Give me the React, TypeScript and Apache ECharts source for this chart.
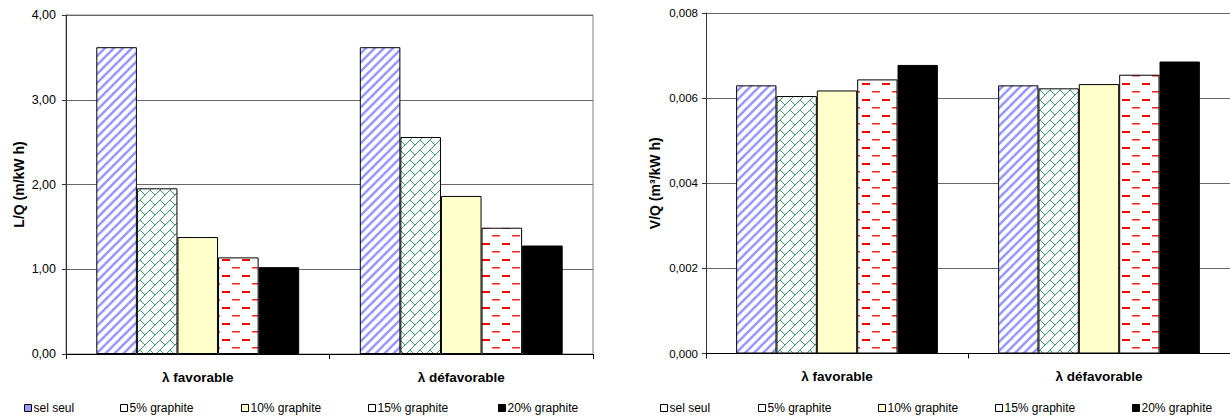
import React, { useEffect, useRef } from "react";
import * as echarts from "echarts";

const categories = ["λ favorable", "λ défavorable"];
const seriesNames = ["sel seul", "5% graphite", "10% graphite", "15% graphite", "20% graphite"];
// L/Q (m/kWh)
const lqSelSeul = [3.62, 3.62];
const lq5 = [1.955, 2.56];
const lq10 = [1.38, 1.865];
const lq15 = [1.14, 1.49];
const lq20 = [1.025, 1.28];
// V/Q (m3/kWh)
const vqSelSeul = [0.0063, 0.0063];
const vq5 = [0.00605, 0.00623];
const vq10 = [0.00618, 0.00633];
const vq15 = [0.00644, 0.00655];
const vq20 = [0.00678, 0.00686];

const lqTicks = [0, 1, 2, 3, 4];
const vqTicks = [0, 0.002, 0.004, 0.006, 0.008];

const FONT = "Liberation Sans, Arial, sans-serif";

function makePattern(w: number, h: number, draw: (c: CanvasRenderingContext2D) => void, bg = "#ffffff") {
  const cv = document.createElement("canvas");
  cv.width = w;
  cv.height = h;
  const c = cv.getContext("2d")!;
  c.fillStyle = bg;
  c.fillRect(0, 0, w, h);
  draw(c);
  return { image: cv.toDataURL(), repeat: "repeat", imageWidth: w, imageHeight: h } as any;
}

function buildPatterns() {
  const stripes = makePattern(9, 9, (c) => {
    c.strokeStyle = "#9999FF";
    c.lineWidth = 2.6;
    for (const k of [-9, 0, 9]) {
      c.beginPath();
      c.moveTo(k - 1, 10);
      c.lineTo(k + 10, -1);
      c.stroke();
    }
  });
  const brick = makePattern(10, 10, (c) => {
    c.strokeStyle = "#3A9A6A";
    c.lineWidth = 1;
    for (const k of [-10, 0, 10]) {
      c.beginPath();
      c.moveTo(k - 1, 11);
      c.lineTo(k + 11, -1);
      c.stroke();
    }
    c.beginPath();
    c.moveTo(0, 0);
    c.lineTo(5, 5);
    c.stroke();
    c.beginPath();
    c.moveTo(10, 10);
    c.lineTo(11, 11);
    c.stroke();
  });
  const dashes = makePattern(20, 16, (c) => {
    c.fillStyle = "#FF0000";
    c.fillRect(2, 3, 8, 2);
    c.fillStyle = "#FF2020";
    c.fillRect(12, 11, 8, 1);
    c.fillStyle = "#FF9090";
    c.fillRect(12, 12, 8, 1);
  });
  return { stripes, brick, dashes };
}

export default function App() {
  const ref = useRef<HTMLDivElement>(null);
  useEffect(() => {
    if (!ref.current) return;
    const chart = echarts.init(ref.current, undefined, { renderer: "svg" });
    const p = buildPatterns();
    const fills = [p.stripes, p.brick, "#FFFFCC", p.dashes, "#000000"];
    const lqData = [lqSelSeul, lq5, lq10, lq15, lq20];
    const vqData = [vqSelSeul, vq5, vq10, vq15, vq20];

    const mkSeries = (data: number[][], idx: number) =>
      seriesNames.map((name, i) => ({
        type: "bar",
        name,
        xAxisIndex: idx,
        yAxisIndex: idx,
        data: data[i],
        barGap: "0%",
        barCategoryGap: "23%",
        itemStyle: { color: fills[i], borderColor: "#000", borderWidth: 1 },
        emphasis: { disabled: true },
      }));

    const xAxisBase = (gridIndex: number) => ({
      type: "category",
      gridIndex,
      data: categories,
      axisLine: { lineStyle: { color: "#000", width: 1 } },
      axisTick: { show: true, length: 5, alignWithLabel: false, lineStyle: { color: "#000" } },
      axisLabel: { fontFamily: FONT, fontSize: 13.5, fontWeight: "bold", color: "#000", margin: 16 },
      splitLine: { show: false },
    });

    const legendLeftX = [24, 120, 241, 368, 498];
    const legendRightX = [660, 758, 878, 995, 1132];
    const leftLegendColors = ["#9999FF", "#ffffff", "#FFFFCC", "#ffffff", "#000000"];
    const rightLegendColors = ["#ffffff", "#ffffff", "#FFFFCC", "#ffffff", "#000000"];
    const legends: any[] = [];
    const legendCommon = {
      top: 402,
      padding: 0,
      icon: "rect",
      itemWidth: 7,
      itemHeight: 7,
      selectedMode: false,
      textStyle: { fontFamily: FONT, fontSize: 12, color: "#000", padding: [0, 0, 0, -3] },
    };
    seriesNames.forEach((name, i) => {
      legends.push({
        ...legendCommon,
        data: [{ name, icon: "rect", itemStyle: { color: leftLegendColors[i], borderColor: "#000", borderWidth: 1 } }],
        left: legendLeftX[i],
      });
      legends.push({
        ...legendCommon,
        data: [{ name, icon: "rect", itemStyle: { color: rightLegendColors[i], borderColor: "#000", borderWidth: 1 } }],
        left: legendRightX[i],
      });
    });

    chart.setOption({
      animation: false,
      backgroundColor: "#ffffff",
      grid: [
        { left: 66, top: 15, width: 527, height: 339, show: true, borderColor: "#808080", borderWidth: 1, backgroundColor: "transparent" },
        { left: 706, top: 13, width: 526, height: 340.5 },
      ],
      legend: legends,
      xAxis: [xAxisBase(0), xAxisBase(1)],
      yAxis: [
        {
          type: "value",
          gridIndex: 0,
          min: lqTicks[0],
          max: lqTicks[lqTicks.length - 1],
          interval: 1,
          name: "L/Q (m/kW h)",
          nameLocation: "middle",
          nameGap: 40,
          nameTextStyle: { fontFamily: FONT, fontSize: 14, fontWeight: "bold", color: "#000" },
          axisLine: { show: true, lineStyle: { color: "#333", width: 1 } },
          axisTick: { show: true, length: 4, inside: false, lineStyle: { color: "#333" } },
          axisLabel: { fontFamily: FONT, fontSize: 12.5, color: "#000", margin: 10, formatter: (v: number) => v.toFixed(2).replace(".", ",") },
          splitLine: { show: true, lineStyle: { color: "#666", width: 1 } },
        },
        {
          type: "value",
          gridIndex: 1,
          min: vqTicks[0],
          max: vqTicks[vqTicks.length - 1],
          interval: 0.002,
          name: "V/Q (m³/kW h)",
          nameLocation: "middle",
          nameGap: 44,
          nameTextStyle: { fontFamily: FONT, fontSize: 14, fontWeight: "bold", color: "#000" },
          axisLine: { show: true, lineStyle: { color: "#333", width: 1 } },
          axisTick: { show: true, length: 4, inside: false, lineStyle: { color: "#333" } },
          axisLabel: { fontFamily: FONT, fontSize: 11.5, color: "#000", margin: 8, formatter: (v: number) => v.toFixed(3).replace(".", ",") },
          splitLine: { show: true, lineStyle: { color: "#666", width: 1 } },
        },
      ],
      series: [...mkSeries(lqData, 0), ...mkSeries(vqData, 1)],
    });
    return () => chart.dispose();
  }, []);
  return <div ref={ref} style={{ position: "absolute", left: 0, top: 0, width: 1230, height: 419 }} />;
}
